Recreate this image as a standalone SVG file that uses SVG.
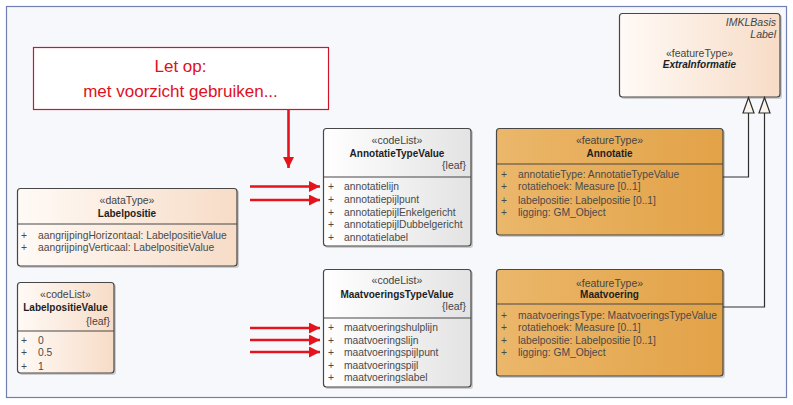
<svg xmlns="http://www.w3.org/2000/svg" width="793" height="405" viewBox="0 0 793 405">
<defs>
<linearGradient id="peach" x1="0" y1="0" x2="1" y2="0"><stop offset="0" stop-color="#fffaf6"/><stop offset="1" stop-color="#f7dcc7"/></linearGradient>
<linearGradient id="gray" x1="0" y1="0" x2="1" y2="0"><stop offset="0" stop-color="#ffffff"/><stop offset="1" stop-color="#e3e3e3"/></linearGradient>
<linearGradient id="orange" x1="0" y1="0" x2="1" y2="0"><stop offset="0" stop-color="#ebb76b"/><stop offset="1" stop-color="#e2a247"/></linearGradient>
<marker id="redhead" markerWidth="11" markerHeight="11" refX="11" refY="5.5" orient="auto" markerUnits="userSpaceOnUse"><path d="M0,0 L11,5.5 L0,11 Z" fill="#e5141c"/></marker>
<style>
.box{stroke:#474747;stroke-width:1.2}
.shadow{fill:#9a9a9a;opacity:0.45}
.div{stroke:#474747;stroke-width:1}
text{font-family:"Liberation Sans",Arial,sans-serif}
.st{font-size:10.5px;fill:#444;text-anchor:middle}
.nm{font-size:10px;font-weight:bold;fill:#1e1e1e;text-anchor:middle}
.at{font-size:10.3px;fill:#4a4a4a}
.lf{font-size:10.5px;fill:#444;text-anchor:end}
.it{font-style:italic}
.red{stroke:#e5141c;stroke-width:2.6;fill:none}
.gen{stroke:#2e2e2e;stroke-width:1.2;fill:none}
.tri{fill:#fbf4ec;stroke:#2e2e2e;stroke-width:1.2}
</style>
</defs>
<rect x="0" y="0" width="793" height="405" fill="#ffffff"/>
<rect x="6.5" y="6.5" width="780" height="391" fill="#f7f8fc" stroke="#7080b4" stroke-width="1.2"/>

<g id="note">
<rect x="33.5" y="47.5" width="295" height="62" fill="#ffffff" stroke="#d0142a" stroke-width="1.2"/>
<text x="180.5" y="72" font-size="17" fill="#e0101e" text-anchor="middle">Let op:</text>
<text x="180.5" y="97" font-size="17" fill="#e0101e" text-anchor="middle">met voorzicht gebruiken...</text>
</g>

<g id="ExtraInformatie">
<rect class="shadow" x="621" y="15" width="161" height="84" rx="3"/>
<rect class="box" x="619.5" y="13.5" width="160.5" height="83.5" rx="3" fill="url(#peach)"/>
<text class="lf it" x="776" y="25.5">IMKLBasis</text>
<text class="lf it" x="776" y="37.5">Label</text>
<text class="st" x="699.5" y="57">«featureType»</text>
<text class="nm it" x="699.5" y="68">ExtraInformatie</text>
</g>

<g id="AnnotatieTypeValue">
<rect class="shadow" x="325" y="130" width="148" height="118" rx="3"/>
<rect class="box" x="323.5" y="128.5" width="147.5" height="117.5" rx="3" fill="url(#gray)"/>
<line class="div" x1="323.5" y1="177" x2="471" y2="177"/>
<text class="st" x="397" y="143.5">«codeList»</text>
<text class="nm" x="397" y="157">AnnotatieTypeValue</text>
<text class="lf" x="466" y="168.5">{leaf}</text>
<text class="at" x="328" y="190">+</text><text class="at" x="344" y="190">annotatielijn</text>
<text class="at" x="328" y="203">+</text><text class="at" x="344" y="203">annotatiepijlpunt</text>
<text class="at" x="328" y="215.5">+</text><text class="at" x="344" y="215.5">annotatiepijlEnkelgericht</text>
<text class="at" x="328" y="228">+</text><text class="at" x="344" y="228">annotatiepijlDubbelgericht</text>
<text class="at" x="328" y="240.5">+</text><text class="at" x="344" y="240.5">annotatielabel</text>
</g>

<g id="MaatvoeringsTypeValue">
<rect class="shadow" x="325" y="271" width="148" height="118" rx="3"/>
<rect class="box" x="323.5" y="269.5" width="147.5" height="117.5" rx="3" fill="url(#gray)"/>
<line class="div" x1="323.5" y1="318" x2="471" y2="318"/>
<text class="st" x="397" y="284">«codeList»</text>
<text class="nm" x="397" y="298">MaatvoeringsTypeValue</text>
<text class="lf" x="466" y="310">{leaf}</text>
<text class="at" x="328" y="331">+</text><text class="at" x="344" y="331">maatvoeringshulplijn</text>
<text class="at" x="328" y="343.5">+</text><text class="at" x="344" y="343.5">maatvoeringslijn</text>
<text class="at" x="328" y="356">+</text><text class="at" x="344" y="356">maatvoeringspijlpunt</text>
<text class="at" x="328" y="368.5">+</text><text class="at" x="344" y="368.5">maatvoeringspijl</text>
<text class="at" x="328" y="381">+</text><text class="at" x="344" y="381">maatvoeringslabel</text>
</g>

<g id="Labelpositie">
<rect class="shadow" x="19" y="190" width="220" height="78" rx="3"/>
<rect class="box" x="17.5" y="188.5" width="219.5" height="77.5" rx="3" fill="url(#peach)"/>
<line class="div" x1="17.5" y1="224" x2="237" y2="224"/>
<text class="st" x="127" y="204">«dataType»</text>
<text class="nm" x="127" y="216.5">Labelpositie</text>
<text class="at" x="21" y="238.5">+</text><text class="at" x="38" y="238.5">aangrijpingHorizontaal: LabelpositieValue</text>
<text class="at" x="21" y="251">+</text><text class="at" x="38" y="251">aangrijpingVerticaal: LabelpositieValue</text>
</g>

<g id="LabelpositieValue">
<rect class="shadow" x="19" y="284" width="97" height="91" rx="3"/>
<rect class="box" x="17.5" y="282.5" width="96.5" height="90.5" rx="3" fill="url(#peach)"/>
<line class="div" x1="17.5" y1="331" x2="114" y2="331"/>
<text class="st" x="65.5" y="297.5">«codeList»</text>
<text class="nm" x="65.5" y="310.5">LabelpositieValue</text>
<text class="lf" x="110" y="324.5">{leaf}</text>
<text class="at" x="21" y="343.5">+</text><text class="at" x="38" y="343.5">0</text>
<text class="at" x="21" y="356">+</text><text class="at" x="38" y="356">0.5</text>
<text class="at" x="21" y="369.5">+</text><text class="at" x="38" y="369.5">1</text>
</g>

<g id="Annotatie">
<rect class="shadow" x="498" y="130" width="227" height="107" rx="3"/>
<rect class="box" x="496.5" y="128.5" width="226.5" height="106.5" rx="3" fill="url(#orange)"/>
<line class="div" x1="496.5" y1="164" x2="723" y2="164"/>
<text class="st" x="609.5" y="144">«featureType»</text>
<text class="nm" x="609.5" y="157">Annotatie</text>
<text class="at" x="501" y="177.5">+</text><text class="at" x="518" y="177.5">annotatieType: AnnotatieTypeValue</text>
<text class="at" x="501" y="190">+</text><text class="at" x="518" y="190">rotatiehoek: Measure [0..1]</text>
<text class="at" x="501" y="203.5">+</text><text class="at" x="518" y="203.5">labelpositie: Labelpositie [0..1]</text>
<text class="at" x="501" y="216">+</text><text class="at" x="518" y="216">ligging: GM_Object</text>
</g>

<g id="Maatvoering">
<rect class="shadow" x="498" y="271" width="227" height="107" rx="3"/>
<rect class="box" x="496.5" y="269.5" width="226.5" height="106.5" rx="3" fill="url(#orange)"/>
<line class="div" x1="496.5" y1="304" x2="723" y2="304"/>
<text class="st" x="609.5" y="287">«featureType»</text>
<text class="nm" x="609.5" y="298">Maatvoering</text>
<text class="at" x="501" y="318.5">+</text><text class="at" x="518" y="318.5" textLength="199" lengthAdjust="spacingAndGlyphs">maatvoeringsType: MaatvoeringsTypeValue</text>
<text class="at" x="501" y="331">+</text><text class="at" x="518" y="331">rotatiehoek: Measure [0..1]</text>
<text class="at" x="501" y="343.5">+</text><text class="at" x="518" y="343.5">labelpositie: Labelpositie [0..1]</text>
<text class="at" x="501" y="356">+</text><text class="at" x="518" y="356">ligging: GM_Object</text>
</g>

<g id="connectors">
<path class="red" d="M288.5,109 V168" marker-end="url(#redhead)"/>
<path class="red" d="M250,186.5 H320" marker-end="url(#redhead)"/>
<path class="red" d="M250,200 H320" marker-end="url(#redhead)"/>
<path class="red" d="M250,328 H320" marker-end="url(#redhead)"/>
<path class="red" d="M250,340 H320" marker-end="url(#redhead)"/>
<path class="red" d="M250,352 H320" marker-end="url(#redhead)"/>
<path class="gen" d="M748.5,113 V177 H723"/>
<path class="gen" d="M764.5,113 V307 H723"/>
<path class="tri" d="M748.5,97.5 L754,113 L743,113 Z"/>
<path class="tri" d="M764.5,97.5 L770,113 L759,113 Z"/>
</g>
</svg>
